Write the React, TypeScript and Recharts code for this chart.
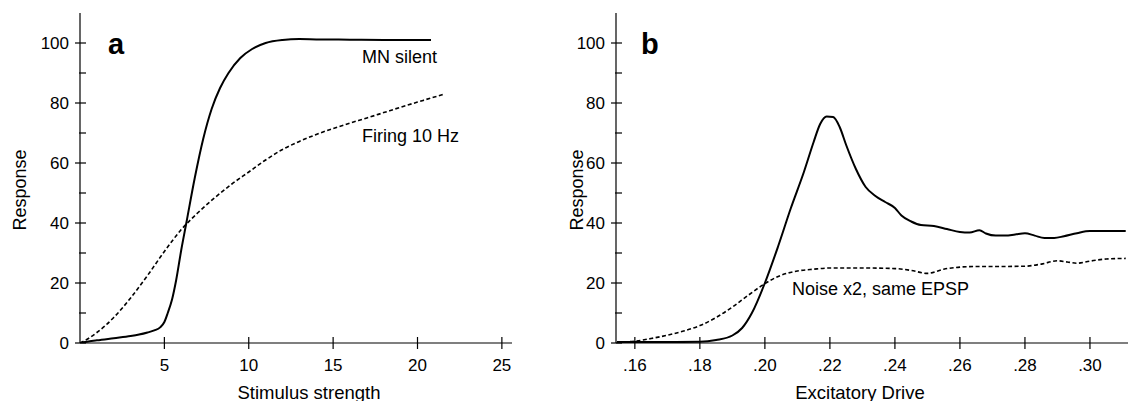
import React from 'react';
import { LineChart, Line, XAxis, YAxis } from 'recharts';

// Panel a: Stimulus strength vs Response
const mnSilentX = [0, 0.5, 1, 2, 3, 3.5, 4, 4.4, 4.75, 5.0, 5.2, 5.45, 5.7, 6.0, 6.3, 6.8, 7.3, 7.8, 8.3, 8.8, 9.5, 10.2, 11, 12, 13, 14, 16, 18, 20.8];
const mnSilentY = [0, 0.5, 0.9, 1.6, 2.3, 2.8, 3.5, 4.2, 5.2, 7, 10, 14.4, 21, 31, 40, 55, 68, 78, 85, 90, 95, 98, 100, 101, 101.3, 101.2, 101.1, 101, 101];
const firingX = [0, 0.5, 1, 1.5, 2, 3, 4, 5, 6, 7, 8, 9, 10, 11, 12, 13, 14, 15, 16, 17, 18, 19, 20, 21, 21.5];
const firingY = [0, 1.5, 3.5, 5.8, 8.5, 15, 22.5, 30.5, 37.8, 43.5, 48.5, 53, 57, 61, 64.5, 67.2, 69.5, 71.5, 73.3, 75, 76.8, 78.6, 80.3, 82, 82.8];

// Panel b: Excitatory Drive vs Response
const driveSolidX = [0.1545, 0.16, 0.17, 0.18, 0.185, 0.19, 0.193, 0.196, 0.2, 0.204, 0.208, 0.212, 0.215, 0.217, 0.219, 0.221, 0.223, 0.225, 0.228, 0.231, 0.234, 0.237, 0.24, 0.242, 0.245, 0.248, 0.252, 0.256, 0.26, 0.263, 0.266, 0.268, 0.271, 0.274, 0.277, 0.28, 0.283, 0.286, 0.289, 0.292, 0.296, 0.3, 0.305, 0.311];
const driveSolidY = [0.3, 0.3, 0.3, 0.4, 1, 2.5, 5, 10, 20, 32, 45, 57, 67, 73, 75.5, 75.3, 72, 66, 58, 52, 49, 47, 45, 42.5, 40.5, 39.3, 39, 38, 37, 36.8, 37.6, 36.5, 35.8, 35.8, 36.2, 36.6, 35.8, 35, 35, 35.6, 36.6, 37.3, 37.3, 37.3];
const noiseX = [0.1545, 0.16, 0.165, 0.17, 0.175, 0.18, 0.185, 0.19, 0.195, 0.2, 0.205, 0.21, 0.215, 0.22, 0.23, 0.24, 0.245, 0.25, 0.255, 0.26, 0.265, 0.27, 0.28, 0.285, 0.29, 0.293, 0.296, 0.3, 0.305, 0.311];
const noiseY = [0.3, 0.6, 1.5, 2.6, 4, 5.8, 8.5, 12, 16, 19.8, 22.6, 24, 24.6, 25, 25, 24.8, 24.2, 23.2, 24.6, 25.3, 25.5, 25.5, 25.6, 26.3, 27.4, 27, 26.6, 27.3, 28, 28.2];

const yTicks = [0, 10, 20, 30, 40, 50, 60, 70, 80, 90, 100];
const xTicksA = [5, 10, 15, 20, 25];
const xTicksB = [0.16, 0.18, 0.2, 0.22, 0.24, 0.26, 0.28, 0.3];

const zip = (xs: number[], ys: number[]) => xs.map((x, i) => ({ x, y: ys[i] }));
const mnSilent = zip(mnSilentX, mnSilentY);
const firing = zip(firingX, firingY);
const driveSolid = zip(driveSolidX, driveSolidY);
const noise = zip(noiseX, noiseY);

const FONT = '"Liberation Sans", Arial, Helvetica, sans-serif';

const YTick = (props: any) => {
  const { x, y, payload } = props;
  const v = payload.value;
  const major = Math.round(v) % 20 === 0;
  return (
    <g>
      <line x1={major ? x - 5 : x - 1} x2={x + 6} y1={y} y2={y} stroke="#000" strokeWidth={1.2} />
      {major && (
        <text x={x - 11} y={y} textAnchor="end" dominantBaseline="central" fontSize={17} fontFamily={FONT} fill="#000">
          {v}
        </text>
      )}
    </g>
  );
};

const makeXTick = (fmt: (v: number) => string) => (props: any) => {
  const { x, y, payload } = props;
  return (
    <g>
      <line x1={x} x2={x} y1={y - 6} y2={y + 6} stroke="#000" strokeWidth={1.2} />
      <text x={x} y={y + 22} textAnchor="middle" dominantBaseline="central" fontSize={17} fontFamily={FONT} fill="#000">
        {fmt(payload.value)}
      </text>
    </g>
  );
};

const XTickA = makeXTick((v) => String(v));
const XTickB = makeXTick((v) => v.toFixed(2).replace(/^0/, ''));

export default function App() {
  return (
    <div style={{ position: 'absolute', left: 0, top: 0, width: 1129, height: 401, background: '#fff', overflow: 'hidden' }}>
      <div style={{ position: 'absolute', left: 0, top: 0 }}>
        <LineChart width={560} height={401} margin={{ top: 13, right: 48, bottom: 57, left: 79 }}>
          <XAxis
            type="number"
            dataKey="x"
            domain={[0, 25.6]}
            ticks={xTicksA}
            interval={0}
            height={1}
            tickSize={0}
            tickMargin={0}
            tickLine={false}
            axisLine={{ stroke: '#000', strokeWidth: 1.2 }}
            tick={XTickA}
            allowDataOverflow
          />
          <YAxis
            type="number"
            domain={[0, 110]}
            ticks={yTicks}
            interval={0}
            width={1}
            tickSize={0}
            tickMargin={0}
            tickLine={false}
            axisLine={{ stroke: '#000', strokeWidth: 1.2 }}
            tick={YTick}
            allowDataOverflow
          />
          <Line data={mnSilent} dataKey="y" type="monotone" stroke="#000" strokeWidth={2} dot={false} isAnimationActive={false} />
          <Line data={firing} dataKey="y" type="monotone" stroke="#000" strokeWidth={1.6} strokeDasharray="4 2.5" dot={false} isAnimationActive={false} />
        </LineChart>
      </div>
      <div style={{ position: 'absolute', left: 560, top: 0 }}>
        <LineChart width={569} height={401} margin={{ top: 13, right: 1, bottom: 57, left: 55 }}>
          <XAxis
            type="number"
            dataKey="x"
            domain={[0.1542, 0.3117]}
            ticks={xTicksB}
            interval={0}
            height={1}
            tickSize={0}
            tickMargin={0}
            tickLine={false}
            axisLine={{ stroke: '#000', strokeWidth: 1.2 }}
            tick={XTickB}
            allowDataOverflow
          />
          <YAxis
            type="number"
            domain={[0, 110]}
            ticks={yTicks}
            interval={0}
            width={1}
            tickSize={0}
            tickMargin={0}
            tickLine={false}
            axisLine={{ stroke: '#000', strokeWidth: 1.2 }}
            tick={YTick}
            allowDataOverflow
          />
          <Line data={driveSolid} dataKey="y" type="monotone" stroke="#000" strokeWidth={2} dot={false} isAnimationActive={false} />
          <Line data={noise} dataKey="y" type="monotone" stroke="#000" strokeWidth={1.6} strokeDasharray="4 2.5" dot={false} isAnimationActive={false} />
        </LineChart>
      </div>
      <svg width={1129} height={401} style={{ position: 'absolute', left: 0, top: 0, pointerEvents: 'none' }}>
        <g fontFamily={FONT} fill="#000">
          <text x={108} y={54} fontSize={29} fontWeight="bold">a</text>
          <text x={641} y={54} fontSize={29} fontWeight="bold">b</text>
          <text x={362} y={63} fontSize={18}>MN silent</text>
          <text x={362} y={141.5} fontSize={18}>Firing 10 Hz</text>
          <text x={792} y={295} fontSize={18}>Noise x2, same EPSP</text>
          <text x={309} y={398.5} fontSize={18.5} textAnchor="middle">Stimulus strength</text>
          <text x={860} y={398.5} fontSize={18.5} textAnchor="middle">Excitatory Drive</text>
          <text transform="translate(26,190) rotate(-90)" fontSize={18} textAnchor="middle">Response</text>
          <text transform="translate(583,190) rotate(-90)" fontSize={18} textAnchor="middle">Response</text>
        </g>
      </svg>
    </div>
  );
}
